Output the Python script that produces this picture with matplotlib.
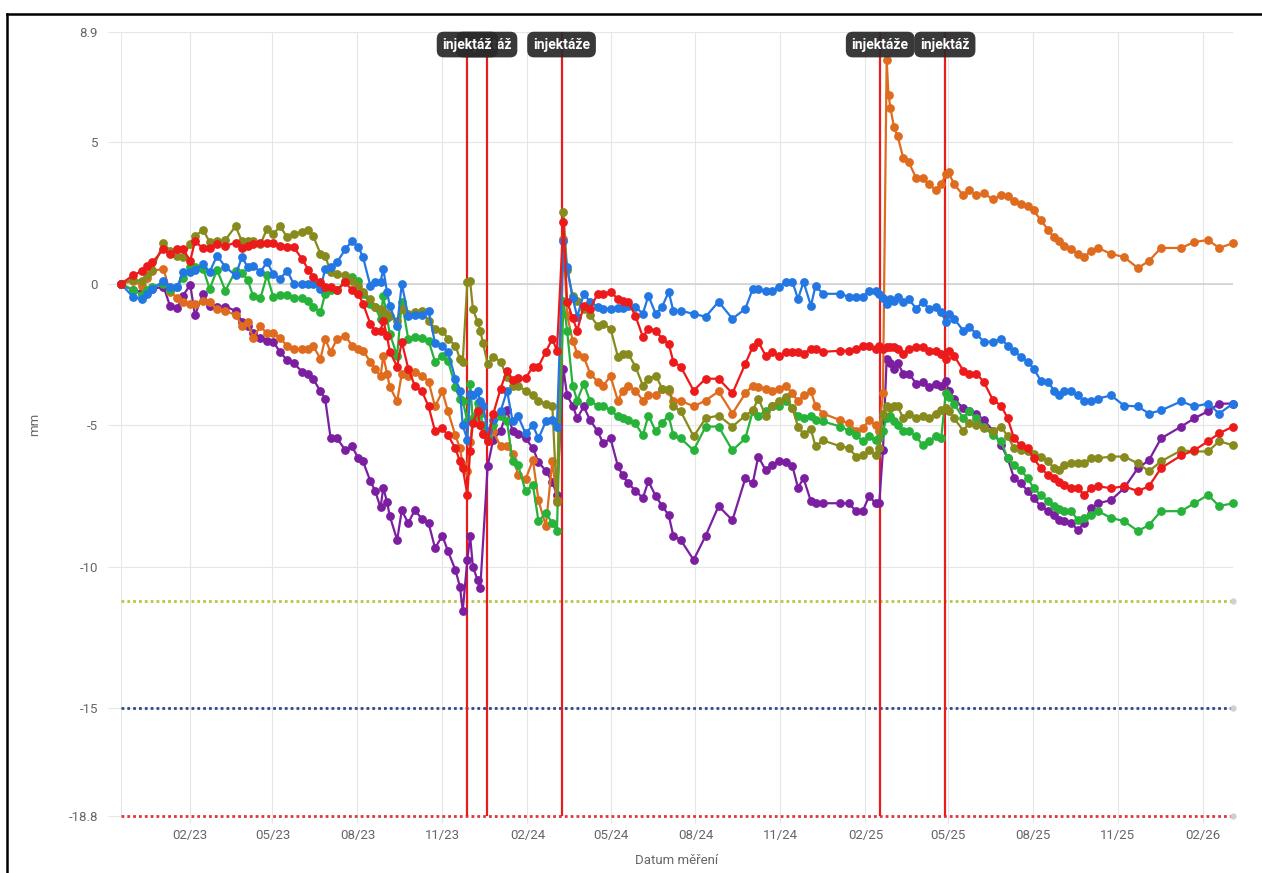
import numpy as np
import pandas as pd
import matplotlib
matplotlib.use("Agg")
import matplotlib.pyplot as plt
import matplotlib.dates as mdates
import matplotlib.transforms as mtransforms
from matplotlib.lines import Line2D

nan = float("nan")

dates = [
    "2022-11-18", "2022-12-01", "2022-12-11", "2022-12-16", "2022-12-22", "2023-01-03", "2023-01-10", "2023-01-18", "2023-01-24", "2023-02-01",
    "2023-02-06", "2023-02-15", "2023-02-22", "2023-03-02", "2023-03-11", "2023-03-22", "2023-03-29", "2023-04-04", "2023-04-10", "2023-04-18",
    "2023-04-25", "2023-05-02", "2023-05-09", "2023-05-17", "2023-05-24", "2023-06-02", "2023-06-09", "2023-06-14", "2023-06-22", "2023-06-27",
    "2023-07-03", "2023-07-10", "2023-07-19", "2023-07-26", "2023-08-02", "2023-08-07", "2023-08-15", "2023-08-20", "2023-08-26", "2023-08-29",
    "2023-09-02", "2023-09-05", "2023-09-13", "2023-09-18", "2023-09-25", "2023-10-02", "2023-10-10", "2023-10-17", "2023-10-24", "2023-11-01",
    "2023-11-07", "2023-11-15", "2023-11-20", "2023-11-23", "2023-11-28", "2023-12-01", "2023-12-04", "2023-12-09", "2023-12-12", "2023-12-15",
    "2023-12-20", "2023-12-26", "2024-01-03", "2024-01-10", "2024-01-16", "2024-01-22", "2024-01-30", "2024-02-07", "2024-02-13", "2024-02-21",
    "2024-02-28", "2024-03-04", "2024-03-11", "2024-03-15", "2024-03-21", "2024-03-26", "2024-04-02", "2024-04-09", "2024-04-17", "2024-04-23",
    "2024-05-01", "2024-05-09", "2024-05-14", "2024-05-20", "2024-05-28", "2024-06-05", "2024-06-11", "2024-06-19", "2024-06-26", "2024-07-03",
    "2024-07-08", "2024-07-16", "2024-07-30", "2024-08-12", "2024-08-26", "2024-09-10", "2024-09-24", "2024-10-02", "2024-10-08", "2024-10-16",
    "2024-10-23", "2024-10-30", "2024-11-07", "2024-11-14", "2024-11-20", "2024-11-26", "2024-12-04", "2024-12-09", "2024-12-17", "2025-01-05",
    "2025-01-14", "2025-01-22", "2025-01-29", "2025-02-05", "2025-02-12", "2025-02-16", "2025-02-20", "2025-02-24", "2025-02-26", "2025-02-28",
    "2025-03-04", "2025-03-08", "2025-03-14", "2025-03-20", "2025-03-28", "2025-04-04", "2025-04-11", "2025-04-18", "2025-04-24", "2025-04-29",
    "2025-05-02", "2025-05-08", "2025-05-18", "2025-05-24", "2025-06-01", "2025-06-09", "2025-06-19", "2025-06-28", "2025-07-05", "2025-07-12",
    "2025-07-19", "2025-07-27", "2025-08-02", "2025-08-10", "2025-08-18", "2025-08-24", "2025-08-30", "2025-09-04", "2025-09-12", "2025-09-19",
    "2025-09-26", "2025-10-03", "2025-10-11", "2025-10-25", "2025-11-08", "2025-11-23", "2025-12-05", "2025-12-18", "2026-01-09", "2026-01-23",
    "2026-02-07", "2026-02-19", "2026-03-06",
]

purple = [
    0, -0.23, -0.28, -0.3, -0.18, -0.1, -0.77, -0.85, -0.42, -0.03,
    -1.1, -0.35, -0.77, -0.8, -0.8, -0.95, -1.33, -1.5, -1.75, -1.9,
    -2.0, -2.05, -2.4, -2.7, -2.8, -3.1, -3.2, -3.35, -3.8, -4.05,
    -5.46, -5.46, -5.88, -5.74, -6.16, -6.27, -6.97, -7.3, -7.9, -7.2,
    -7.7, -8.2, -9.05, -8.0, -8.45, -8.0, -8.3, -8.45, -9.33, -8.9,
    -9.44, -10.1, -10.7, -11.55, -9.75, -8.9, -10.0, -10.45, -10.74, nan,
    -6.44, -5.5, -5.2, -4.47, -5.2, -5.3, -5.46, -5.8, -6.3, -6.6,
    -7.0, -7.45, -3.0, -3.94, -4.3, -4.75, -4.33, -4.82, -5.2, -5.63,
    -5.46, -6.44, -6.76, -7.04, -7.3, -7.57, -6.97, -7.5, -7.85, -8.17,
    -8.9, -9.05, -9.75, -8.9, -7.85, -8.35, -6.87, -7.04, -6.1, -6.58,
    -6.4, -6.27, -6.3, -6.44, -7.2, -6.87, -7.68, -7.75, -7.75, -7.75,
    -7.75, -8.03, -8.03, -7.5, -7.75, -7.75, -5.88, -2.64, nan, -2.8,
    -3.0, -2.8, -3.17, -3.17, -3.52, -3.45, -3.63, -3.52, -3.59, -3.42,
    -3.77, -4.05, -4.4, -4.5, -4.58, -4.8, -5.18, -5.7, -6.16, -6.87,
    -7.04, -7.32, -7.57, -7.85, -8.03, -8.17, -8.35, -8.38, -8.45, -8.7,
    -8.45, -7.92, -7.75, -7.64, -7.22, -6.51, -6.23, -5.46, -5.04, -4.75,
    -4.5, -4.23, -4.23,
]

blue = [
    0, -0.46, -0.55, -0.35, -0.18, 0.1, -0.1, -0.1, 0.42, 0.42,
    0.5, 0.7, 0.42, 1.0, 0.6, 0.3, 0.95, 0.6, 0.65, 0.42,
    0.77, 0.35, 0.18, 0.46, 0.0, 0.0, 0.0, 0.0, -0.18, 0.53,
    0.6, 0.77, 1.23, 1.51, 1.3, 0.95, -0.07, 0.07, 0.07, 0.53,
    -0.28, -0.77, -1.48, 0.0, -1.13, -1.1, -1.1, -0.95, -2.1, -2.2,
    -2.4, -3.35, -3.77, -5.0, -5.5, -3.9, -3.94, -3.77, -4.15, -4.3,
    -5.2, -4.82, -4.5, -3.77, -4.86, -4.68, -5.28, -5.0, -5.46, -4.86,
    -4.82, -5.04, 1.51, 0.6, -0.5, -1.16, -0.35, -0.63, -0.81, -0.88,
    -0.88, -0.85, -0.85, -0.77, -0.8, -1.06, -0.42, -1.06, -0.8, -0.28,
    -0.95, -0.95, -1.06, -1.16, -0.63, -1.23, -0.88, -0.18, -0.18, -0.25,
    -0.25, -0.1, 0.07, 0.07, -0.53, 0.07, -0.77, -0.07, -0.35, -0.35,
    -0.46, -0.46, -0.46, -0.25, -0.25, -0.35, -0.5, -0.7, nan, -0.53,
    -0.6, -0.46, -0.63, -0.53, -0.88, -0.63, -0.88, -0.81, -1.0, -1.34,
    -1.06, -1.23, -1.65, -1.51, -1.76, -2.04, -2.04, -1.94, -2.18, -2.36,
    -2.57, -2.75, -2.99, -3.42, -3.45, -3.77, -3.94, -3.77, -3.8, -3.94,
    -4.15, -4.15, -4.05, -3.94, -4.3, -4.33, -4.58, -4.47, -4.15, -4.33,
    -4.23, -4.58, -4.23,
]

red = [
    0, 0.3, 0.46, 0.63, 0.76, 1.23, 1.06, 1.23, 1.23, 0.82,
    1.5, 1.26, 1.26, 1.41, 1.35, 1.45, 1.26, 1.35, 1.41, 1.45,
    1.45, 1.45, 1.35, 1.3, 1.3, 0.88, 0.5, 0.25, 0.07, -0.1,
    -0.1, -0.23, 0.07, -0.23, -0.35, -0.7, -1.41, -1.65, -1.65, -1.3,
    -1.83, -2.4, -2.92, -2.04, -2.99, -3.59, -3.8, -4.33, -5.2, -5.1,
    -5.35, -5.8, -6.27, -6.5, -7.46, -5.9, -4.9, -4.5, -5.0, -5.3,
    -5.56, -4.6, -3.7, -3.06, -3.4, -3.34, -3.34, -2.92, -2.92, -2.4,
    -1.94, -2.36, 2.2, -0.63, -1.2, -1.65, -0.77, -0.88, -0.35, -0.35,
    -0.28, -0.53, -0.6, -0.63, -1.13, -1.87, -1.58, -1.65, -1.94, -2.11,
    -2.75, -2.92, -3.77, -3.35, -3.35, -3.87, -2.82, -2.22, -2.04, -2.54,
    -2.4, -2.54, -2.4, -2.4, -2.4, -2.46, -2.29, -2.29, -2.4, -2.36,
    -2.36, -2.29, -2.18, -2.18, -2.29, -2.2, -2.29, -2.22, nan, -2.22,
    -2.22, -2.3, -2.46, -2.29, -2.22, -2.22, -2.36, -2.36, -2.46, -2.64,
    -2.36, -2.54, -3.06, -3.17, -3.17, -3.45, -4.1, -4.3, -4.75, -5.46,
    -5.7, -5.8, -6.16, -6.51, -6.76, -6.87, -7.0, -7.11, -7.22, -7.22,
    -7.46, -7.22, -7.15, -7.22, -7.15, -7.32, -7.15, -6.51, -6.06, -5.88,
    -5.56, -5.28, -5.04,
]

olive = [
    0, 0.15, 0.1, 0.3, 0.5, 1.44, 1.17, 1.0, 0.95, 1.41,
    1.7, 1.9, 1.48, 1.5, 1.55, 2.04, 1.5, 1.5, 1.5, 1.4,
    1.94, 1.75, 2.04, 1.65, 1.75, 1.85, 1.9, 1.7, 1.06, 1.0,
    0.42, 0.35, 0.3, 0.1, -0.07, -0.28, -0.53, -0.81, -0.9, -1.0,
    -1.05, -1.13, -1.3, -0.88, -1.06, -1.0, -0.95, -1.3, -1.58, -1.65,
    -1.94, -2.18, -2.64, -2.75, 0.07, 0.1, -0.88, -1.34, -1.65, -2.1,
    -2.82, -2.57, -2.75, -3.3, -3.59, -3.6, -3.77, -3.94, -4.15, -4.23,
    -4.3, -7.7, 2.53, 0.5, -0.42, -0.6, -0.9, -1.1, -1.48, -1.41,
    -1.58, -2.57, -2.46, -2.46, -2.92, -3.59, -3.35, -3.24, -3.7, -3.7,
    -4.33, -4.5, -5.39, -4.75, -4.65, -5.04, -4.65, -4.47, -4.05, -4.65,
    -4.3, -4.15, -3.98, -4.4, -5.04, -5.3, -5.14, -5.74, -5.53, -5.74,
    -5.8, -6.1, -6.06, -5.88, -6.06, -5.8, -4.58, -4.33, nan, -4.4,
    -4.33, -4.33, -4.75, -4.58, -4.75, -4.68, -4.75, -4.58, -4.47, -4.4,
    -4.5, -4.75, -5.18, -4.93, -5.0, -5.1, -5.18, -5.04, -5.39, -5.8,
    -5.88, -5.92, -6.0, -6.1, -6.27, -6.51, -6.58, -6.41, -6.34, -6.34,
    -6.34, -6.16, -6.16, -6.1, -6.1, -6.34, -6.62, -6.27, -5.88, -5.92,
    -5.92, -5.56, -5.7,
]

green = [
    0, -0.2, -0.4, -0.2, -0.1, 0.0, -0.2, -0.1, 0.2, 0.6,
    0.6, 0.53, -0.18, 0.5, -0.24, 0.46, 0.4, 0.15, -0.42, -0.5,
    0.3, -0.47, -0.4, -0.4, -0.5, -0.5, -0.6, -0.8, -1.0, -0.35,
    -0.23, -0.2, 0.1, 0.24, 0.1, -0.35, -0.7, -0.81, -1.23, -0.42,
    -1.2, -1.76, -2.54, -0.63, -1.94, -1.87, -1.9, -2.0, -2.75, -2.54,
    -2.71, -3.63, -4.05, -4.12, -4.86, -3.52, -4.82, -4.2, -4.6, -5.0,
    -5.46, -5.0, -4.68, -4.86, -6.27, -6.4, -7.32, -7.1, -8.38, -8.1,
    -8.45, -8.73, -0.6, -1.65, -3.6, -4.12, -3.52, -4.15, -4.3, -4.3,
    -4.47, -4.68, -4.75, -4.82, -4.93, -5.35, -4.65, -5.21, -4.9, -4.65,
    -5.35, -5.46, -5.88, -5.04, -5.04, -5.88, -5.46, -4.5, -4.65, -4.5,
    -4.3, -4.3, -4.15, -4.4, -4.65, -4.75, -4.66, -4.82, -4.86, -5.04,
    -5.18, -5.35, -5.56, -5.39, -5.53, -5.46, -5.18, -4.75, nan, -4.65,
    -4.86, -5.0, -5.21, -5.18, -5.39, -5.7, -5.56, -5.39, -5.46, -3.87,
    -3.98, -4.23, -4.75, -4.5, -4.75, -5.04, -5.35, -5.56, -6.16, -6.41,
    -6.58, -6.87, -7.22, -7.46, -7.68, -7.85, -7.95, -8.03, -8.03, -8.35,
    -8.27, -8.17, -8.03, -8.27, -8.38, -8.73, -8.52, -8.03, -8.03, -7.75,
    -7.46, -7.85, -7.75,
]

orange = [
    0, 0.1, -0.06, 0.2, 0.46, 0.53, -0.28, -0.5, -0.63, -0.7,
    -0.7, -0.6, -0.65, -0.9, -0.95, -1.1, -1.47, -1.35, -1.9, -1.5,
    -1.75, -1.75, -1.9, -2.2, -2.3, -2.3, -2.3, -2.2, -2.64, -1.94,
    -2.4, -1.94, -1.83, -2.18, -2.29, -2.36, -2.75, -2.99, -3.27, -2.54,
    -3.17, -3.63, -4.15, -3.17, -3.24, -3.1, -3.24, -3.45, -4.33, -3.8,
    -4.5, -5.35, -5.8, -6.4, -6.6, -5.6, -4.75, -4.5, -5.0, -5.3,
    -5.56, -5.2, -5.74, -5.74, -6.0, -6.76, -6.9, -6.23, -7.64, -8.56,
    -6.27, -7.64, 1.6, -1.1, -2.0, -2.46, -2.57, -3.17, -3.45, -3.59,
    -3.27, -4.12, -3.8, -3.59, -3.77, -4.12, -3.94, -3.94, -3.7, -3.77,
    -4.12, -4.12, -4.33, -4.12, -3.8, -4.58, -3.87, -3.59, -3.63, -3.7,
    -3.77, -3.7, -3.59, -3.87, -4.15, -3.94, -3.8, -4.3, -4.58, -4.82,
    -4.93, -5.18, -5.1, -4.82, -5.0, -5.18, -3.87, 7.92, 6.69, 6.23,
    5.53, 5.21, 4.44, 4.3, 3.73, 3.73, 3.52, 3.31, 3.52, 3.87,
    3.94, 3.52, 3.13, 3.31, 3.13, 3.2, 2.99, 3.13, 3.1, 2.92,
    2.82, 2.75, 2.6, 2.25, 1.9, 1.65, 1.5, 1.34, 1.23, 1.06,
    0.95, 1.16, 1.27, 1.06, 0.95, 0.56, 0.81, 1.27, 1.27, 1.48,
    1.55, 1.27, 1.44,
]

series_names = ["purple", "orange", "green", "olive", "blue", "red"]
series_values = [purple, orange, green, olive, blue, red]
series_colors = ["#7b1fa0", "#df6c1e", "#27b33a", "#878a1c", "#2277e3", "#ec1a1a"]

limit_values = [-11.2, -15, -18.8]
limit_colors = ["#bcc444", "#2f4a8a", "#e0343c"]

inj_dates = ["2023-11-28", "2023-12-19", "2024-03-09", "2025-02-17", "2025-04-28"]
inj_labels = ["injektáž", "injektáž", "injektáže", "injektáže", "injektáž"]

ytick_values = [8.9, 5, 0, -5, -10, -15, -18.8]
ytick_labels = ["8.9", "5", "0", "-5", "-10", "-15", "-18.8"]
xtick_dates = ["2023-02-01", "2023-05-01", "2023-08-01", "2023-11-01", "2024-02-01",
               "2024-05-01", "2024-08-01", "2024-11-01", "2025-02-01", "2025-05-01",
               "2025-08-01", "2025-11-01", "2026-02-01"]
xtick_labels = ["02/23", "05/23", "08/23", "11/23", "02/24", "05/24", "08/24",
                "11/24", "02/25", "05/25", "08/25", "11/25", "02/26"]

plt.rcParams["font.family"] = ["Roboto", "DejaVu Sans"]

W, H = 1262, 873
fig = plt.figure(figsize=(W / 100, H / 100), dpi=100)
fig.patch.set_facecolor("white")
ax = fig.add_axes([121 / W, 1 - 816 / H, (1233 - 121) / W, (816 - 32) / H])

x = mdates.date2num(pd.to_datetime(dates))
x0, x1 = x[0], x[-1]
ax.set_xlim(x0, x1)
ax.set_ylim(-18.8, 8.9)

grid_c = "#e6e6e6"
ax.set_xticks(mdates.date2num(pd.to_datetime(xtick_dates)))
ax.set_xticklabels(xtick_labels)
ax.set_yticks(ytick_values)
ax.set_yticklabels(ytick_labels)
ax.grid(True, color=grid_c, lw=0.8, zorder=0)
ax.set_axisbelow(True)
ax.axvline(x0, color=grid_c, lw=0.8, zorder=0)
ax.axhline(0, color="#cfcfcf", lw=1.1, zorder=1)
for s in ax.spines.values():
    s.set_visible(False)
ax.tick_params(axis="y", length=9.5, color=grid_c, labelcolor="#666666", labelsize=9.5, pad=7)
ax.tick_params(axis="x", length=5, color=grid_c, labelcolor="#666666", labelsize=9.5, pad=4)
ax.set_xlabel("Datum měření", color="#666666", fontsize=9.5, labelpad=9)
ax.set_ylabel("mm", color="#666666", fontsize=9.5, labelpad=20)

# limit lines
for v, c in zip(limit_values, limit_colors):
    ax.plot([x0, x1], [v, v], ls=(0, (1, 1.1)), lw=2.0, color=c, zorder=2, clip_on=False)
    ax.plot([x1], [v], "o", ms=3.5, color="#d0d0d0", zorder=2, clip_on=False)

# injection lines
for d in inj_dates:
    ax.axvline(mdates.date2num(pd.Timestamp(d)), color="#e81c1c", lw=1.6, zorder=3)

# series
for i, (vals, c) in enumerate(zip(series_values, series_colors)):
    arr = np.array(vals, dtype=float)
    m = ~np.isnan(arr)
    ax.plot(x[m], arr[m], "-o", color=c, lw=1.6, ms=5.3, zorder=4 + i, clip_on=False)

# injection labels (overlapping like the original tooltip-style annotations)
trans = mtransforms.blended_transform_factory(ax.transData, ax.transAxes)
zs = [12, 11, 11, 11, 12]
for d, lab, z in zip(inj_dates, inj_labels, zs):
    ax.text(mdates.date2num(pd.Timestamp(d)), 0.984, lab, transform=trans,
            ha="center", va="center", color="white", fontsize=10, fontweight="bold",
            zorder=z,
            bbox=dict(boxstyle="round,pad=0.42,rounding_size=0.5", fc="#2a2a2a",
                      ec="none", alpha=0.93))

# screenshot frame
fig.add_artist(Line2D([7 / W, 7 / W], [0, 1 - 13.5 / H], transform=fig.transFigure,
                      color="black", lw=1.8))
fig.add_artist(Line2D([7 / W, 1], [1 - 13.5 / H, 1 - 13.5 / H], transform=fig.transFigure,
                      color="black", lw=1.8))

fig.savefig("out.png", dpi=100)
